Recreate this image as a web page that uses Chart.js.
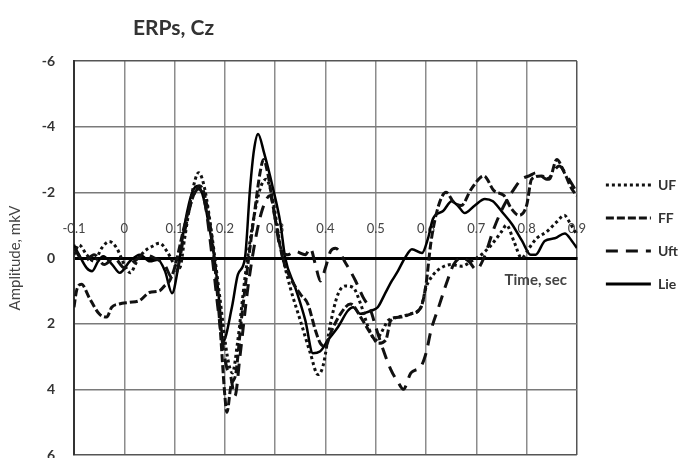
<!DOCTYPE html>
<html>
<head>
<meta charset="utf-8">
<script src="https://cdn.jsdelivr.net/npm/chart.js@4"></script>
<style>
html,body{margin:0;padding:0;background:#fff;}
#wrap{width:688px;height:458px;}
</style>
</head>
<body>
<div id="wrap"><canvas id="c" width="688" height="458"></canvas></div>
<script>
const seriesNames = ['UF', 'FF', 'Uft', 'Lie'];
const xTicksMin = -0.1, xTicksMax = 0.9;
const yTicksMin = -6, yTicksMax = 6;

const ufT = [-0.1,-0.09,-0.075,-0.06,-0.045,-0.03,-0.015,0.0,0.012,0.025,0.04,0.055,0.07,0.085,0.1,0.11,0.12,0.135,0.148,0.16,0.175,0.19,0.205,0.215,0.225,0.24,0.255,0.27,0.282,0.295,0.31,0.33,0.35,0.37,0.385,0.395,0.41,0.425,0.44,0.455,0.47,0.485,0.5,0.51,0.525,0.545,0.57,0.59,0.6,0.615,0.63,0.65,0.67,0.69,0.71,0.73,0.75,0.76,0.775,0.79,0.805,0.82,0.84,0.86,0.875,0.885,0.9];
const ufV = [-0.1,-0.4,-0.1,0.1,-0.3,-0.5,-0.3,0.2,0.45,0.1,-0.2,-0.35,-0.45,-0.2,0.2,0.3,-0.6,-2.0,-2.6,-2.1,-0.6,1.2,3.0,3.5,2.6,0.6,-1.0,-2.1,-2.4,-1.8,-0.4,0.9,1.9,2.9,3.55,3.3,2.0,1.1,0.85,0.9,1.4,2.1,2.5,2.3,1.9,1.8,1.7,1.5,0.9,0.5,0.3,0.2,0.25,0.1,-0.1,-0.4,-0.8,-1.0,-0.5,0.0,-0.3,-0.6,-0.8,-1.1,-1.3,-1.1,-0.7];

const ffT = [-0.1,-0.095,-0.085,-0.07,-0.05,-0.035,-0.025,-0.01,0.01,0.03,0.05,0.07,0.08,0.09,0.1,0.12,0.14,0.15,0.16,0.175,0.19,0.2,0.204,0.212,0.222,0.232,0.245,0.26,0.27,0.277,0.285,0.3,0.315,0.33,0.35,0.365,0.38,0.39,0.4,0.41,0.43,0.45,0.47,0.49,0.505,0.52,0.53,0.55,0.57,0.59,0.6,0.61,0.625,0.64,0.655,0.67,0.69,0.715,0.735,0.755,0.77,0.785,0.8,0.81,0.83,0.845,0.86,0.875,0.89,0.9];
const ffV = [1.5,1.0,0.8,1.2,1.7,1.8,1.5,1.4,1.35,1.3,1.05,1.0,0.85,0.7,0.3,-1.0,-2.0,-2.2,-1.9,-0.5,2.0,4.2,4.7,3.9,3.5,2.0,0.3,-1.5,-2.6,-3.0,-2.6,-1.2,0.0,0.6,1.1,1.4,2.2,2.6,2.7,2.3,1.7,1.4,1.8,2.3,2.6,2.5,1.9,1.8,1.7,1.5,0.8,-0.5,-1.6,-2.0,-1.7,-1.6,-2.1,-2.5,-2.05,-1.9,-1.5,-1.3,-1.6,-2.4,-2.5,-2.4,-3.0,-2.6,-2.1,-1.9];

const uftT = [-0.1,-0.08,-0.06,-0.04,-0.02,0.0,0.02,0.04,0.06,0.08,0.095,0.105,0.12,0.135,0.148,0.16,0.175,0.19,0.205,0.21,0.22,0.23,0.245,0.26,0.275,0.29,0.3,0.31,0.325,0.34,0.36,0.37,0.38,0.39,0.4,0.41,0.42,0.44,0.46,0.475,0.49,0.5,0.515,0.53,0.545,0.555,0.57,0.59,0.6,0.61,0.625,0.64,0.655,0.67,0.685,0.7,0.715,0.735,0.755,0.775,0.79,0.805,0.82,0.84,0.865,0.88,0.9];
const uftV = [-0.3,0.1,-0.1,0.2,0.0,0.3,0.1,-0.1,0.0,0.2,0.6,0.4,-0.8,-1.8,-2.1,-1.7,0.0,2.0,3.4,3.5,4.2,3.0,1.0,-0.5,-1.5,-1.9,-1.2,-0.3,-0.1,-0.2,-0.1,-0.3,0.2,0.7,0.3,-0.2,-0.3,0.15,0.7,1.2,1.6,2.1,2.8,3.4,3.8,4.0,3.5,3.3,2.9,2.2,1.5,0.8,0.2,0.0,0.1,0.35,0.0,-0.9,-1.6,-2.1,-2.4,-2.5,-2.6,-2.4,-2.8,-2.5,-2.0];

const lieT = [-0.1,-0.09,-0.075,-0.064,-0.052,-0.042,-0.024,-0.009,0.011,0.031,0.051,0.067,0.081,0.095,0.107,0.121,0.135,0.147,0.158,0.167,0.18,0.19,0.196,0.214,0.226,0.24,0.25,0.258,0.266,0.278,0.296,0.31,0.32,0.34,0.36,0.375,0.389,0.405,0.425,0.445,0.455,0.469,0.492,0.504,0.518,0.532,0.544,0.558,0.572,0.592,0.604,0.614,0.634,0.651,0.663,0.677,0.697,0.717,0.733,0.753,0.771,0.791,0.808,0.818,0.836,0.856,0.876,0.89,0.9];
const lieV = [-0.4,-0.1,0.3,0.4,0.1,-0.05,0.2,0.45,0.1,-0.1,0.1,0.05,0.4,1.07,0.3,-1.1,-2.0,-2.2,-1.8,-1.1,0.1,1.5,2.55,1.5,0.5,0.0,-2.1,-3.3,-3.78,-3.2,-2.1,-1.1,0.0,0.9,1.9,2.9,2.85,2.5,2.1,1.6,1.5,1.7,1.6,1.5,1.1,0.7,0.4,0.0,-0.27,-0.15,-0.6,-1.2,-1.43,-1.73,-1.6,-1.37,-1.6,-1.8,-1.73,-1.37,-1.03,-0.52,-0.1,-0.1,-0.52,-0.6,-0.75,-0.52,-0.3];

function pts(ts, vs){ return ts.map((t,i)=>({x:t, y:vs[i]})); }

const FONT = 'Lato';

const textPlugin = {
  id: 'texts',
  afterDraw(chart){
    const ctx = chart.ctx;
    const xs = chart.scales.x, ys = chart.scales.y;
    ctx.save();
    ctx.fillStyle = '#333';
    ctx.font = 'bold 21px ' + FONT;
    ctx.textAlign = 'left';
    ctx.textBaseline = 'middle';
    ctx.fillText('ERPs, Cz', 133, 28);
    ctx.fillStyle = '#444';
    ctx.font = 'bold 15px ' + FONT;
    ctx.textAlign = 'right';
    ctx.fillText('Time, sec', xs.getPixelForValue(xTicksMax) - 10, ys.getPixelForValue(0) + 22);
    ctx.restore();
  }
};

new Chart(document.getElementById('c'), {
  type: 'line',
  data: {
    datasets: [
      {label: seriesNames[0], data: pts(ufT, ufV), borderColor:'#111', borderWidth:3, borderDash:[3,3], pointRadius:0, fill:false, cubicInterpolationMode:'monotone', tension:0.3},
      {label: seriesNames[1], data: pts(ffT, ffV), borderColor:'#111', borderWidth:3, borderDash:[8,3], pointRadius:0, fill:false, cubicInterpolationMode:'monotone', tension:0.3},
      {label: seriesNames[2], data: pts(uftT, uftV), borderColor:'#111', borderWidth:3, borderDash:[12,8], pointRadius:0, fill:false, cubicInterpolationMode:'monotone', tension:0.3},
      {label: seriesNames[3], data: pts(lieT, lieV), borderColor:'#000', borderWidth:2.5, pointRadius:0, fill:false, cubicInterpolationMode:'monotone', tension:0.3}
    ]
  },
  options: {
    responsive: false,
    animation: false,
    layout: {padding: {left: 0, top: 61, right: 0, bottom: 3}},
    plugins: {
      legend: {
        position: 'right',
        align: 'start',
        fullSize: false,
        title: {display: true, text: '', font: {size: 10}, padding: {top: 86, bottom: 0}},
        labels: {
          usePointStyle: true,
          pointStyle: 'line',
          pointStyleWidth: 45,
          boxHeight: 14,
          padding: 19,
          color: '#333',
          font: {family: FONT, size: 14, weight: 'bold'},
          generateLabels: chart => {
            const items = Chart.defaults.plugins.legend.labels.generateLabels(chart);
            items.forEach(it => {
              const ds = chart.data.datasets[it.datasetIndex];
              it.lineDash = ds.borderDash || [];
              it.lineWidth = 3;
              it.strokeStyle = ds.borderColor;
              it.fillStyle = ds.borderColor;
              it.pointStyle = 'line';
              it.lineCap = 'butt';
            });
            return items;
          }
        }
      },
      tooltip: {enabled: false},
      title: {display: false}
    },
    scales: {
      x: {
        type: 'linear',
        min: xTicksMin, max: xTicksMax,
        position: {y: 0},
        ticks: {
          stepSize: 0.1,
          padding: -37,
          color: '#444',
          font: {family: FONT, size: 13},
          callback: v => Math.abs(v) < 1e-9 ? '0' : v.toFixed(1)
        },
        grid: {
          color: c => (c.tick && Math.abs(c.tick.value - xTicksMax) < 1e-9) ? '#555' : '#8c8c8c',
          lineWidth: 1.5,
          drawTicks: false
        },
        border: {color: '#000', width: 3}
      },
      y: {
        type: 'linear',
        min: yTicksMin, max: yTicksMax,
        reverse: true,
        ticks: {
          stepSize: 2,
          padding: 19,
          color: '#333',
          font: {family: FONT, size: 14, weight: 'bold'}
        },
        grid: {
          color: c => {
            if (!c.tick) return '#777';
            if (c.tick.value === 0) return 'rgba(0,0,0,0)';
            if (c.tick.value === yTicksMin || c.tick.value === yTicksMax) return '#555';
            return '#7a7a7a';
          },
          lineWidth: 1.5,
          drawTicks: false
        },
        border: {color: '#333', width: 2},
        title: {display: true, text: 'Amplitude, mkV', color: '#444', font: {family: FONT, size: 15}, padding: {top: 6, bottom: 0}},
        afterFit: s => { s.width = 74; s.paddingBottom = 0; s.paddingTop = 0; }
      },
      gap: {
        type: 'linear',
        position: 'right',
        display: true,
        min: 0, max: 1,
        grid: {display: false, drawOnChartArea: false},
        ticks: {display: false},
        border: {display: false},
        afterFit: s => { s.width = 10; }
      }
    }
  },
  plugins: [textPlugin]
});
</script>
</body>
</html>
